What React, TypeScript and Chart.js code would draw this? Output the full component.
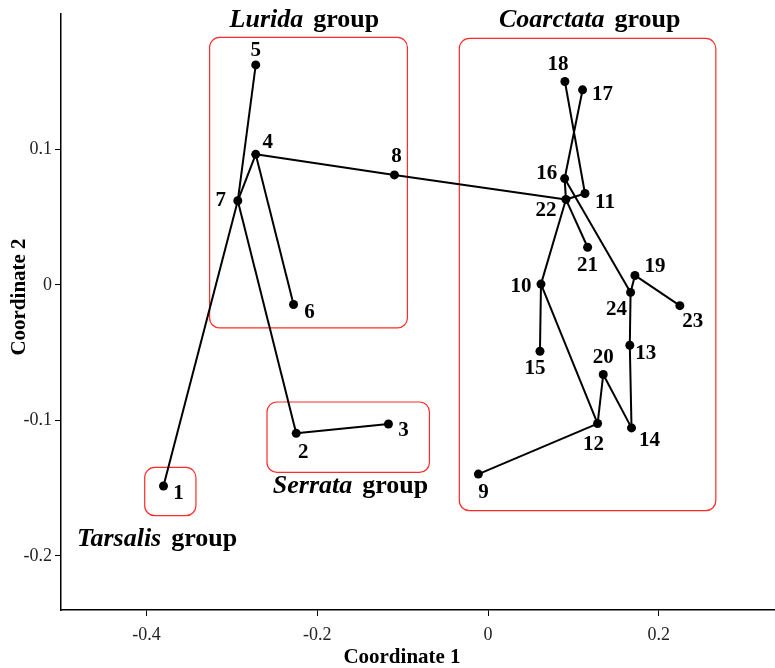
import React, { useEffect, useRef } from "react";
import { Chart, registerables } from "chart.js";

Chart.register(...registerables);

// ---- data ----
const sampleIds = [1, 2, 3, 4, 5, 6, 7, 8, 9, 10, 11, 12, 13, 14, 15, 16, 17, 18, 19, 20, 21, 22, 23, 24];
const coord1 = [-0.38, -0.2246, -0.1166, -0.272, -0.272, -0.2277, -0.293, -0.1096, -0.0113, 0.062, 0.1135, 0.1283, 0.166, 0.168, 0.0608, 0.0897, 0.1107, 0.09, 0.172, 0.1349, 0.1166, 0.0912, 0.2246, 0.1669];
const coord2 = [-0.1485, -0.1096, -0.1027, 0.0963, 0.1623, -0.0145, 0.062, 0.0811, -0.1397, 0.0005, 0.0674, -0.1024, -0.0446, -0.1056, -0.049, 0.0784, 0.1439, 0.15, 0.0069, -0.0662, 0.0277, 0.063, -0.0154, -0.0056];
const edgeFrom = [1, 7, 7, 7, 4, 4, 2, 8, 22, 11, 17, 16, 22, 22, 16, 24, 19, 24, 13, 14, 20, 12, 10, 10];
const edgeTo = [7, 5, 4, 2, 6, 8, 3, 22, 11, 18, 16, 22, 21, 10, 24, 19, 23, 13, 14, 20, 12, 9, 15, 12];
const xTicks = [-0.4, -0.2, 0, 0.2];
const yTicks = [-0.2, -0.1, 0, 0.1];
const groupNames = ["Lurida", "Coarctata", "Serrata", "Tarsalis"];
const groupBoxLeft = [-0.326, -0.0336, -0.2588, -0.402];
const groupBoxRight = [-0.0944, 0.2667, -0.0686, -0.342];
const groupBoxTop = [0.1826, 0.1818, -0.0865, -0.1348];
const groupBoxBottom = [-0.0318, -0.1667, -0.1385, -0.1704];
const groupLabelX = [-0.215, 0.119, -0.161, -0.3875];
const groupLabelY = [0.1949, 0.1949, -0.1485, -0.1875];

// pixel offsets of the number labels relative to their points
const labelOffsets: Record<number, [number, number]> = {
  1: [15, 8], 2: [7, 19], 3: [15, 7], 4: [12, -12], 5: [0, -14], 6: [16, 8],
  7: [-17, 0], 8: [2, -18], 9: [5, 18], 10: [-20, 2], 11: [20, 9], 12: [-4, 21],
  13: [16, 8], 14: [18, 13], 15: [-5, 17], 16: [-18, -5], 17: [20, 5], 18: [-7, -17],
  19: [20, -9], 20: [0, -17], 21: [0, 18], 22: [-20, 11], 23: [13, 16], 24: [-14, 17],
};

const SERIF = "'Liberation Serif', 'DejaVu Serif', serif";

const annotationPlugin = {
  id: "annotations",
  beforeDatasetsDraw(chart: any) {
    const { ctx, scales } = chart;
    const xs = scales.x, ys = scales.y;
    ctx.save();
    ctx.strokeStyle = "#ff2a2a";
    ctx.lineWidth = 1.2;
    for (let i = 0; i < groupNames.length; i++) {
      const l = xs.getPixelForValue(groupBoxLeft[i]);
      const r = xs.getPixelForValue(groupBoxRight[i]);
      const t = ys.getPixelForValue(groupBoxTop[i]);
      const b = ys.getPixelForValue(groupBoxBottom[i]);
      ctx.beginPath();
      (ctx as any).roundRect(l, t, r - l, b - t, 10);
      ctx.stroke();
    }
    ctx.restore();
  },
  afterDatasetsDraw(chart: any) {
    const { ctx, scales } = chart;
    const xs = scales.x, ys = scales.y;
    ctx.save();
    ctx.fillStyle = "#000";
    ctx.textAlign = "center";
    ctx.textBaseline = "middle";
    ctx.font = `bold 21px ${SERIF}`;
    for (let i = 0; i < sampleIds.length; i++) {
      const id = sampleIds[i];
      const px = xs.getPixelForValue(coord1[i]);
      const py = ys.getPixelForValue(coord2[i]);
      const off = labelOffsets[id] || [0, 0];
      ctx.fillText(String(id), px + off[0], py + off[1]);
    }
    // group labels
    ctx.textAlign = "left";
    const gap = 10;
    for (let i = 0; i < groupNames.length; i++) {
      const cx = xs.getPixelForValue(groupLabelX[i]);
      const cy = ys.getPixelForValue(groupLabelY[i]);
      const italicFont = `italic bold 26px ${SERIF}`;
      const boldFont = `bold 26px ${SERIF}`;
      ctx.font = italicFont;
      const w1 = ctx.measureText(groupNames[i]).width;
      ctx.font = boldFont;
      const w2 = ctx.measureText("group").width;
      const start = cx - (w1 + gap + w2) / 2;
      ctx.font = italicFont;
      ctx.fillText(groupNames[i], start, cy);
      ctx.font = boldFont;
      ctx.fillText("group", start + w1 + gap, cy);
    }
    // axis titles
    ctx.font = `bold 21px ${SERIF}`;
    ctx.textAlign = "center";
    ctx.fillText("Coordinate 1", 402, 658);
    ctx.translate(20, 297);
    ctx.rotate(-Math.PI / 2);
    ctx.fillText("Coordinate 2", 0, 0);
    ctx.restore();
  },
};

export default function App() {
  const canvasRef = useRef<HTMLCanvasElement | null>(null);

  useEffect(() => {
    if (!canvasRef.current) return;
    const pointData = sampleIds.map((_, i) => ({ x: coord1[i], y: coord2[i] }));
    const edgeSets = edgeFrom.map((f, k) => {
      const a = sampleIds.indexOf(f);
      const b = sampleIds.indexOf(edgeTo[k]);
      return {
        type: "scatter" as const,
        data: [
          { x: coord1[a], y: coord2[a] },
          { x: coord1[b], y: coord2[b] },
        ],
        showLine: true,
        borderColor: "#000",
        borderWidth: 2,
        pointRadius: 0,
        pointHoverRadius: 0,
      };
    });
    const chart = new Chart(canvasRef.current, {
      type: "scatter",
      data: {
        datasets: [
          ...edgeSets,
          {
            type: "scatter",
            data: pointData,
            pointRadius: 4.5,
            pointBackgroundColor: "#000",
            pointBorderColor: "#000",
            pointBorderWidth: 0,
          } as any,
        ],
      },
      options: {
        animation: false,
        responsive: false,
        devicePixelRatio: 1,
        layout: { autoPadding: false, padding: { top: 12, right: 0, left: 0, bottom: 0 } },
        plugins: { legend: { display: false }, tooltip: { enabled: false } },
        scales: {
          x: {
            type: "linear",
            min: -0.5,
            max: 0.336,
            afterFit: (s: any) => { s.height = 58; },
            afterBuildTicks: (s: any) => { s.ticks = xTicks.map((v) => ({ value: v })); },
            border: { display: true, color: "#000", width: 1.5 },
            grid: { display: true, drawOnChartArea: false, drawTicks: true, tickLength: 6, tickColor: "#000", tickWidth: 1 },
            ticks: {
              padding: 8,
              color: "#222",
              font: { family: SERIF, size: 18 },
              callback: (v: any) => String(Math.round(Number(v) * 10) / 10),
            },
          },
          y: {
            type: "linear",
            min: -0.24,
            max: 0.2,
            afterFit: (s: any) => { s.width = 61; },
            afterBuildTicks: (s: any) => { s.ticks = yTicks.map((v) => ({ value: v })); },
            border: { display: true, color: "#000", width: 1.5 },
            grid: { display: true, drawOnChartArea: false, drawTicks: true, tickLength: 6, tickColor: "#000", tickWidth: 1 },
            ticks: {
              padding: 3,
              color: "#222",
              font: { family: SERIF, size: 18 },
              callback: (v: any) => String(Math.round(Number(v) * 10) / 10),
            },
          },
        },
      },
      plugins: [annotationPlugin],
    });
    return () => chart.destroy();
  }, []);

  return (
    <div style={{ position: "absolute", left: 0, top: 0, width: 775, height: 668, background: "#fff" }}>
      <canvas ref={canvasRef} width={775} height={668} style={{ display: "block" }} />
    </div>
  );
}
